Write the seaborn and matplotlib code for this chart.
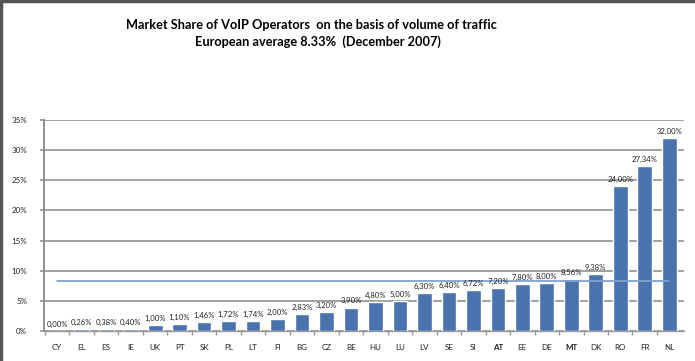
import numpy as np
import pandas as pd
import matplotlib
matplotlib.use("Agg")
import matplotlib.pyplot as plt
import seaborn as sns
from matplotlib.lines import Line2D

countries = ['CY', 'EL', 'ES', 'IE', 'UK', 'PT', 'SK', 'PL', 'LT', 'FI', 'BG', 'CZ', 'BE',
             'HU', 'LU', 'LV', 'SE', 'SI', 'AT', 'EE', 'DE', 'MT', 'DK', 'RO', 'FR', 'NL']
shares = [0.00, 0.26, 0.38, 0.40, 1.00, 1.10, 1.46, 1.72, 1.74, 2.00, 2.83, 3.20, 3.90,
          4.80, 5.00, 6.30, 6.40, 6.72, 7.20, 7.80, 8.00, 8.56, 9.38, 24.00, 27.34, 32.00]
eu_average = 8.33
bold_ticks = ['AT', 'MT']

df = pd.DataFrame({'Country': countries, 'Share': shares})

sns.set_theme(style="white")
plt.rcParams['font.family'] = ['Lato', 'DejaVu Sans']

fig = plt.figure(figsize=(6.95, 3.61), dpi=100)
ax = fig.add_axes([0.063, 0.083, 0.921, 0.585])

sns.barplot(data=df, x='Country', y='Share', color='#4A72AC', saturation=1,
            width=0.6, ax=ax, zorder=3)

# European average line
ax.plot([0, len(countries) - 1], [eu_average, eu_average], color='#7FA2D0', lw=1.3, zorder=4)

for i, v in enumerate(shares):
    ax.text(i, v + 0.5, f"{v:.2f}%".replace('.', ','), ha='center', va='bottom',
            fontsize=5.6, color='#222222', zorder=5)

ax.set_ylim(0, 35)
ax.set_xlim(-0.55, len(countries) - 0.4)
ax.set_yticks(np.arange(0, 36, 5))
ax.set_yticklabels([f"{t}%" for t in range(0, 36, 5)], fontsize=5.8, color='#222222')
ax.yaxis.grid(True, color='#999999', lw=1.3, zorder=0)
ax.set_xticks(np.arange(-0.5, len(countries) - 0.5, 1), minor=True)
ax.tick_params(axis='x', which='major', labelsize=5.8, colors='#222222', length=0, pad=9)
ax.tick_params(axis='x', which='minor', length=3, color='#999999', bottom=True)
ax.tick_params(axis='y', length=3, color='#999999', left=True, pad=9)
for lbl in ax.get_xticklabels():
    if lbl.get_text() in bold_ticks:
        lbl.set_fontweight('bold')
ax.set_xlabel('')
ax.set_ylabel('')
for s in ['top', 'right']:
    ax.spines[s].set_visible(False)
ax.spines['left'].set_color('#888888')
ax.spines['left'].set_linewidth(1.3)
ax.spines['bottom'].set_color('#999999')
ax.spines['bottom'].set_linewidth(1.0)

fig.text(0.448, 0.931, "Market Share of VoIP Operators  on the basis of volume of traffic",
         ha='center', va='center', fontsize=9.2, fontweight='bold', color='black')
fig.text(0.458, 0.884, "European average 8.33%  (December 2007)",
         ha='center', va='center', fontsize=9.2, fontweight='bold', color='black')

# outer frame (top and left edges only)
fig.lines.append(Line2D([0.002, 0.002], [0, 1], transform=fig.transFigure, color='#555555', lw=2.5))
fig.lines.append(Line2D([0, 1], [0.998, 0.998], transform=fig.transFigure, color='#555555', lw=2.5))

fig.savefig("out.png", dpi=100)
